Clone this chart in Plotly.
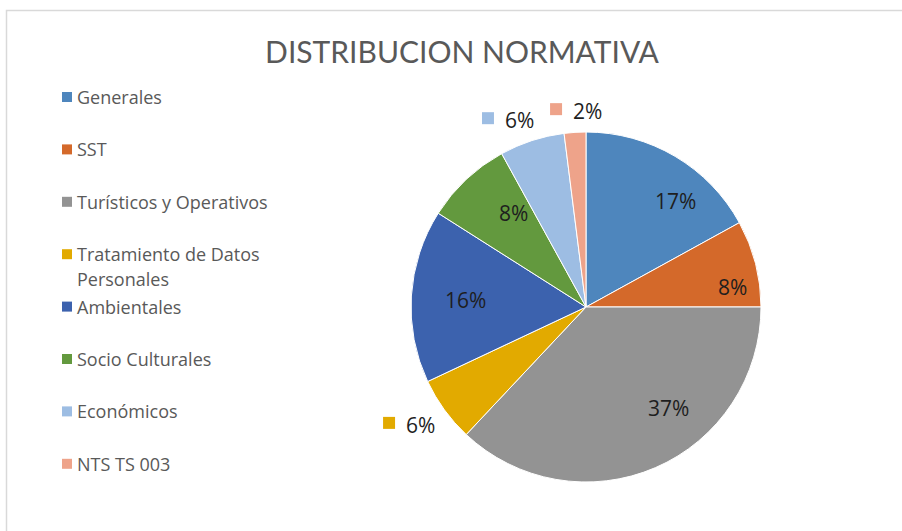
import math
import plotly.graph_objects as go

categories = ["Generales", "SST", "Turísticos y Operativos",
              "Tratamiento de Datos Personales", "Ambientales",
              "Socio Culturales", "Económicos", "NTS TS 003"]
legend_lines = [["Generales"], ["SST"], ["Turísticos y Operativos"],
                ["Tratamiento de Datos", "Personales"], ["Ambientales"],
                ["Socio Culturales"], ["Económicos"], ["NTS TS 003"]]
values = [17, 8, 37, 6, 16, 8, 6, 2]
colors = ["#4e86bd", "#d4692a", "#939393", "#e2aa00",
          "#3c62ae", "#63993e", "#9dbde3", "#eea38a"]
outside = [False, False, False, True, False, False, True, True]

W, H = 902, 531
cx, cy, R = 586, 307, 175   # pie centre / radius in pixels

TITLE_FONT = "Lato, 'Open Sans', sans-serif"
FONT = "'Open Sans', 'Noto Sans', sans-serif"

# label placement (radius factor, angle tweak in degrees) per slice
label_r = [0.795, 0.847, 0.743, 1.207, 0.69, 0.676, 1.16, 1.126]
ang_adj = [9.7, 6.7, -15.7, 2.4, -0.3, 5.7, -4.3, 1.0]


def px(x):
    return x / W


def py(y):
    return 1 - y / H


fig = go.Figure()
fig.add_trace(go.Pie(
    labels=categories,
    values=values,
    sort=False,
    direction="clockwise",
    rotation=0,
    marker=dict(colors=colors, line=dict(color="white", width=1)),
    textinfo="none",
    showlegend=False,
    hoverinfo="label+percent",
    domain=dict(x=[px(cx - R), px(cx + R)], y=[py(cy + R), py(cy - R)]),
))

annotations = []
shapes = []

# data labels, positioned from slice mid-angles
total = sum(values)
cum = 0
for i, v in enumerate(values):
    mid = (cum + v / 2) / total * 360
    cum += v
    pct = round(100 * v / total)
    a = math.radians(mid + ang_adj[i])
    r = R * label_r[i]
    lx = cx + r * math.sin(a)
    ly = cy - r * math.cos(a)
    if outside[i]:
        shapes.append(dict(type="rect", xref="paper", yref="paper",
                           x0=px(lx - 27), x1=px(lx - 15),
                           y0=py(ly + 5), y1=py(ly - 7),
                           fillcolor=colors[i], line=dict(width=0)))
        annotations.append(dict(
            x=px(lx - 6), y=py(ly + 1), xref="paper", yref="paper",
            text=f"{pct}%",
            showarrow=False, xanchor="left", yanchor="middle",
            font=dict(family=FONT, size=21, color="#1e1e1e"),
        ))
    else:
        annotations.append(dict(
            x=px(lx), y=py(ly), xref="paper", yref="paper",
            text=f"{pct}%",
            showarrow=False, xanchor="center", yanchor="middle",
            font=dict(family=FONT, size=21, color="#1e1e1e"),
        ))

# legend built from categories
leg_top, leg_step, line_gap = 97, 52.4, 25
for i, lines in enumerate(legend_lines):
    y = leg_top + i * leg_step
    shapes.append(dict(type="rect", xref="paper", yref="paper",
                       x0=px(62), x1=px(72), y0=py(y + 5), y1=py(y - 5),
                       fillcolor=colors[i], line=dict(width=0)))
    for j, lab in enumerate(lines):
        annotations.append(dict(
            x=px(75), y=py(y + j * line_gap), xref="paper", yref="paper",
            text=lab, showarrow=False, xanchor="left", yanchor="middle",
            align="left",
            font=dict(family=FONT, size=18, color="#595959"),
        ))

# chart area border
shapes.append(dict(type="rect", xref="paper", yref="paper",
                   x0=px(6.5), x1=px(920), y0=py(560), y1=py(10.5),
                   line=dict(color="#d9d9d9", width=1.5),
                   fillcolor="rgba(0,0,0,0)"))

fig.update_layout(
    width=W, height=H,
    margin=dict(l=0, r=0, t=0, b=0),
    paper_bgcolor="white",
    plot_bgcolor="white",
    title=dict(text="DISTRIBUCION NORMATIVA", x=px(462), xanchor="center",
               y=py(52), yanchor="middle",
               font=dict(family=TITLE_FONT, size=30, color="#595959")),
    annotations=annotations,
    shapes=shapes,
)

fig.write_html("out.html",
               config={"displayModeBar": False},
               post_script="document.body.style.margin='0px';")
